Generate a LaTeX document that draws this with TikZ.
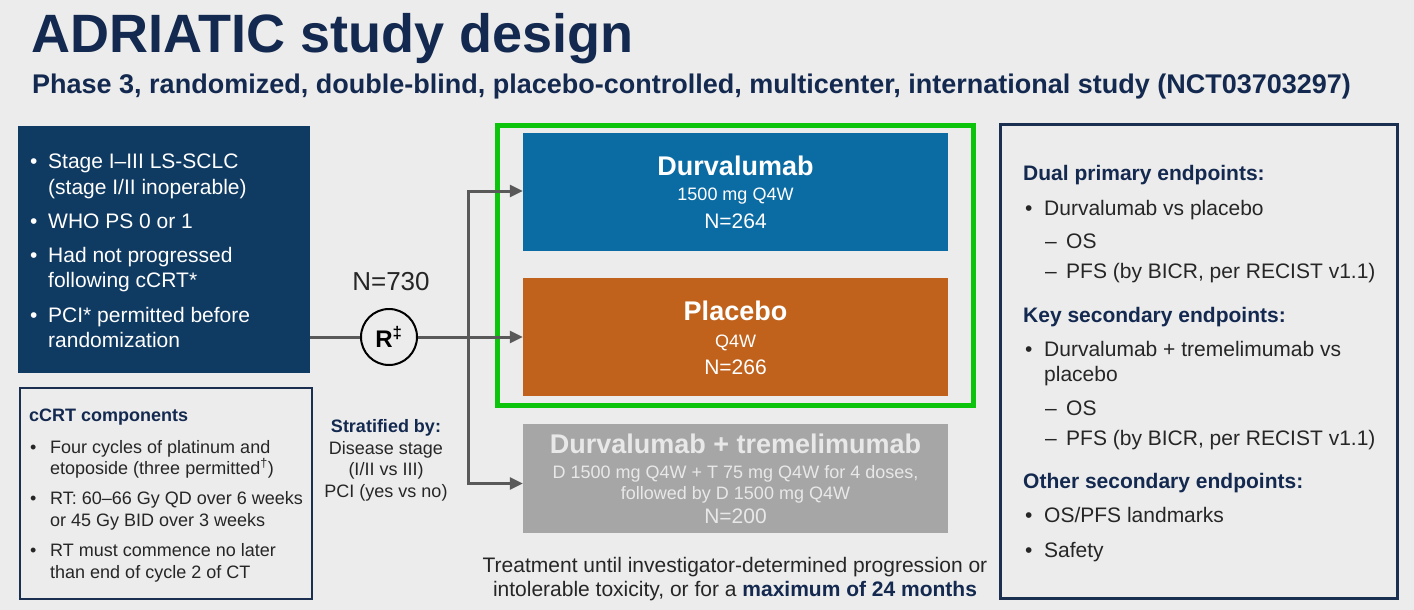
\documentclass[tikz,border=0pt]{standalone}
\usepackage{fontspec}
\setmainfont{Liberation Sans}
\usetikzlibrary{arrows.meta}
\definecolor{ADBack}{HTML}{ECECEC}
\definecolor{ADNavy}{HTML}{14294F}
\definecolor{ADBoxNavy}{HTML}{0F3A62}
\definecolor{ADFrame}{HTML}{1B3050}
\definecolor{ADBlue}{HTML}{0B6BA3}
\definecolor{ADOrange}{HTML}{C0621C}
\definecolor{ADGray}{HTML}{A6A6A6}
\definecolor{ADGrayText}{HTML}{E8E8E8}
\definecolor{ADGreen}{HTML}{0CC40C}
\definecolor{ADLine}{HTML}{595959}
\definecolor{ADText}{HTML}{262626}
\newcommand\adfs[1]{\fontsize{#1}{#1}\selectfont}

\begin{document}
\begin{tikzpicture}[x=1pt,y=-1pt,
  txt/.style={anchor=base west,inner sep=0pt,text=ADText,font=\adfs{21}},
  ctxt/.style={anchor=base,inner sep=0pt,text=ADText,font=\adfs{21}},
  armbox/.style={minimum width=425pt,inner sep=0pt},
  conn/.style={ADLine,line width=3pt},
  arrowc/.style={conn,-{Triangle[length=13pt,width=12pt]}}]
\path[use as bounding box] (0,0) rectangle (1414,610);
\fill[ADBack] (0,0) rectangle (1414,610);
% title
\node[txt,text=ADNavy,font=\bfseries\adfs{54}] (title) at (31,53) {ADRIATIC study design};
\node[txt,text=ADNavy,font=\bfseries\adfs{27}] (subtitle) at (32,93) {Phase 3, randomized, double-blind, placebo-controlled, multicenter, international study (NCT03703297)};
% inclusion criteria
\node[fill=ADBoxNavy,minimum width=292pt,minimum height=247pt,inner sep=0pt] (incl) at (164,249.5) {};
\node[txt,text=white] (inc1) at (30,168) {\makebox[18pt][l]{•}Stage I–III LS-SCLC};
\node[txt,text=white] (inc1b) at (48,194) {(stage I/II inoperable)};
\node[txt,text=white] (inc2) at (30,228) {\makebox[18pt][l]{•}WHO PS 0 or 1};
\node[txt,text=white] (inc3) at (30,262) {\makebox[18pt][l]{•}Had not progressed};
\node[txt,text=white] (inc3b) at (48,287) {following cCRT*};
\node[txt,text=white] (inc4) at (30,322) {\makebox[18pt][l]{•}PCI* permitted before};
\node[txt,text=white] (inc4b) at (48,347) {randomization};
% cCRT components
\node[draw=ADFrame,line width=2pt,minimum width=292pt,minimum height=211pt,inner sep=0pt] (ccrt) at (166,493.5) {};
\node[txt,text=ADNavy,font=\bfseries\adfs{18}] (ccrthead) at (29,421) {cCRT components};
\node[txt,font=\adfs{18}] (ccrt1) at (30,453) {\makebox[20pt][l]{•}Four cycles of platinum and};
\node[txt,font=\adfs{18}] (ccrt1b) at (50,474) {etoposide (three permitted\textsuperscript{†})};
\node[txt,font=\adfs{18}] (ccrt2) at (30,504) {\makebox[20pt][l]{•}RT: 60–66 Gy QD over 6 weeks};
\node[txt,font=\adfs{18}] (ccrt2b) at (50,526) {or 45 Gy BID over 3 weeks};
\node[txt,font=\adfs{18}] (ccrt3) at (30,556) {\makebox[20pt][l]{•}RT must commence no later};
\node[txt,font=\adfs{18}] (ccrt3b) at (50,578) {than end of cycle 2 of CT};
% randomization
\node[circle,draw=black,line width=2pt,fill=ADBack,minimum size=56pt,inner sep=0pt,font=\bfseries\adfs{24}] (rnd) at (389,337) {R\textsuperscript{‡}};
\node[ctxt,font=\adfs{26}] (nrand) at (391,290) {N=730};
\node[ctxt,text=ADNavy,font=\bfseries\adfs{18}] (strat) at (386,432) {Stratified by:};
\node[ctxt,font=\adfs{18}] (strat1) at (386,454) {Disease stage};
\node[ctxt,font=\adfs{18}] (strat2) at (386,475) {(I/II vs III)};
\node[ctxt,font=\adfs{18}] (strat3) at (386,497) {PCI (yes vs no)};
% treatment arms
\draw[ADGreen,line width=5pt] (497,125) rectangle (973,405);
\node[armbox,fill=ADBlue,minimum height=118pt] (durva) at (735.5,192) {};
\node[ctxt,text=white,font=\bfseries\adfs{27}] (durva1) at (735.5,175) {Durvalumab};
\node[ctxt,text=white,font=\adfs{18}] (durva2) at (735.5,200) {1500 mg Q4W};
\node[ctxt,text=white] (durva3) at (735.5,228) {N=264};
\node[armbox,fill=ADOrange,minimum height=118pt] (placebo) at (735.5,337) {};
\node[ctxt,text=white,font=\bfseries\adfs{27}] (placebo1) at (735.5,320) {Placebo};
\node[ctxt,text=white,font=\adfs{18}] (placebo2) at (735.5,347) {Q4W};
\node[ctxt,text=white] (placebo3) at (735.5,374) {N=266};
\node[armbox,fill=ADGray,minimum height=109pt] (durvatreme) at (735.5,478.5) {};
\node[ctxt,text=ADGrayText,font=\bfseries\adfs{27}] (durvatreme1) at (735.5,453) {Durvalumab + tremelimumab};
\node[ctxt,text=ADGrayText,font=\adfs{18}] (durvatreme2) at (735.5,478) {D 1500 mg Q4W + T 75 mg Q4W for 4 doses,};
\node[ctxt,text=ADGrayText,font=\adfs{18}] (durvatreme3) at (735.5,499) {followed by D 1500 mg Q4W};
\node[ctxt,text=ADGrayText] (durvatreme4) at (735.5,523) {N=200};
\node[ctxt] (duration1) at (735,572) {Treatment until investigator-determined progression or};
\node[ctxt] (duration2) at (735,596) {intolerable toxicity, or for a \textcolor{ADNavy}{\bfseries maximum of 24 months}};
% connectors
\coordinate (split) at (468,337);
\draw[conn] (incl.east |- rnd.west) -- (rnd.west);
\draw[conn] (rnd.east) -- (split);
\draw[arrowc] (split) |- ([yshift=1pt]durva.west);
\draw[arrowc] (split) -- (placebo.west);
\draw[arrowc] (split) |- ([yshift=-5pt]durvatreme.west);
% endpoints
\node[draw=ADFrame,line width=3pt,minimum width=397pt,minimum height=474pt,inner sep=0pt] (endpts) at (1198.5,361) {};
\node[txt,text=ADNavy,font=\bfseries\adfs{21}] (ephead1) at (1023,180) {Dual primary endpoints:};
\node[txt] (ep1) at (1025,215) {\makebox[19pt][l]{•}Durvalumab vs placebo};
\node[txt] (ep1a) at (1045,248) {\makebox[21pt][l]{–}OS};
\node[txt] (ep1b) at (1045,278) {\makebox[21pt][l]{–}PFS (by BICR, per RECIST v1.1)};
\node[txt,text=ADNavy,font=\bfseries\adfs{21}] (ephead2) at (1023,322) {Key secondary endpoints:};
\node[txt] (ep2) at (1025,356) {\makebox[19pt][l]{•}Durvalumab + tremelimumab vs};
\node[txt] (ep2c) at (1044,381) {placebo};
\node[txt] (ep2a) at (1045,415) {\makebox[21pt][l]{–}OS};
\node[txt] (ep2b) at (1045,445) {\makebox[21pt][l]{–}PFS (by BICR, per RECIST v1.1)};
\node[txt,text=ADNavy,font=\bfseries\adfs{21}] (ephead3) at (1023,488) {Other secondary endpoints:};
\node[txt] (ep3) at (1025,522) {\makebox[19pt][l]{•}OS/PFS landmarks};
\node[txt] (ep4) at (1025,557) {\makebox[19pt][l]{•}Safety};
\end{tikzpicture}
\end{document}
